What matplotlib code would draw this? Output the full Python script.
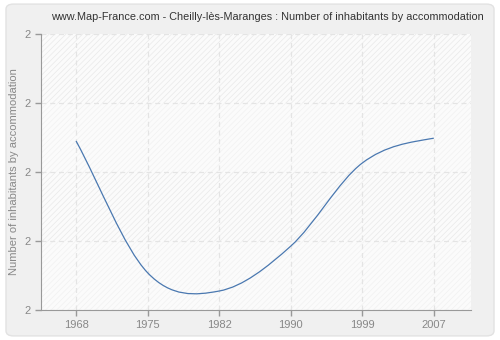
import numpy as np
import matplotlib
matplotlib.use("Agg")
import matplotlib.pyplot as plt
from matplotlib.path import Path
from matplotlib.patches import PathPatch, FancyBboxPatch, Rectangle

# data
years = ["1968", "1975", "1982", "1990", "1999", "2007"]
values = [2.090, 1.708, 1.655, 1.785, 2.026, 2.098]
y_ticks = [1.6, 1.8, 2.0, 2.2, 2.4]

title = "www.Map-France.com - Cheilly-lès-Maranges : Number of inhabitants by accommodation"
ylabel = "Number of inhabitants by accommodation"

grey_txt = "#888888"
line_col = "#4a78b0"

plt.rcParams["font.family"] = ["Liberation Sans", "DejaVu Sans"]
plt.rcParams["hatch.linewidth"] = 0.5

fig = plt.figure(figsize=(5.0, 3.4), dpi=100)
fig.patch.set_facecolor("white")

# rounded grey frame behind everything
frame = FancyBboxPatch((0.012, 0.012), 0.976, 0.976, boxstyle="round,pad=0,rounding_size=0.015",
                       transform=fig.transFigure, facecolor="#f0f0f0", edgecolor="#e2e2e2",
                       linewidth=1.0, zorder=-10)
fig.patches.append(frame)

ax = fig.add_axes([41 / 500, 1 - 310 / 340, (471 - 41) / 500, (310 - 34) / 340])
ax.set_facecolor("#fbfbfb")

x = np.arange(len(years))
ax.set_xlim(-0.49, 5.52)
ax.set_ylim(y_ticks[0], y_ticks[-1])

# alternating hatched bands
for i in range(len(y_ticks) - 1):
    hc = "#e9e9e9" if i % 2 == 1 else "#f1f1f1"
    ax.add_patch(Rectangle((-0.49, y_ticks[i]), 6.01, y_ticks[i + 1] - y_ticks[i],
                           facecolor="none", edgecolor=hc, hatch="//////",
                           linewidth=0, zorder=0))

ax.grid(True, color="#e4e4e4", linestyle=(0, (4, 3)), linewidth=0.9)
ax.set_axisbelow(True)

# smooth curve through the points (cubic hermite as bezier segments)
pts = np.column_stack([x, values]).astype(float)
n = len(pts)
m = np.zeros(n)
for i in range(n):
    if i == 0:
        m[i] = (values[1] - values[0])
    elif i == n - 1:
        m[i] = (values[-1] - values[-2]) * 0.5
    else:
        m[i] = (values[i + 1] - values[i - 1]) / 2
verts = [tuple(pts[0])]
codes = [Path.MOVETO]
for i in range(n - 1):
    verts.append((pts[i, 0] + 1 / 3, pts[i, 1] + m[i] / 3))
    verts.append((pts[i + 1, 0] - 1 / 3, pts[i + 1, 1] - m[i + 1] / 3))
    verts.append(tuple(pts[i + 1]))
    codes += [Path.CURVE4] * 3
ax.add_patch(PathPatch(Path(verts, codes), facecolor="none", edgecolor=line_col, linewidth=0.9, zorder=3))

ax.set_xticks(x)
ax.set_xticklabels(years)
ax.set_yticks(y_ticks)
ax.set_yticklabels(["%.0f" % v for v in y_ticks])
ax.tick_params(colors="#999999", labelcolor=grey_txt, labelsize=8, length=4, width=1)

for s in ["top", "right"]:
    ax.spines[s].set_visible(False)
for s in ["left", "bottom"]:
    ax.spines[s].set_color("#999999")

ax.set_ylabel(ylabel, color=grey_txt, fontsize=8)
ax.yaxis.set_label_coords(-0.052, 0.5)
fig.text(267 / 500, 1 - 17 / 340, title, ha="center", va="center", fontsize=7.8, color="#333333")

fig.savefig("out.png", dpi=100, facecolor=fig.get_facecolor())
